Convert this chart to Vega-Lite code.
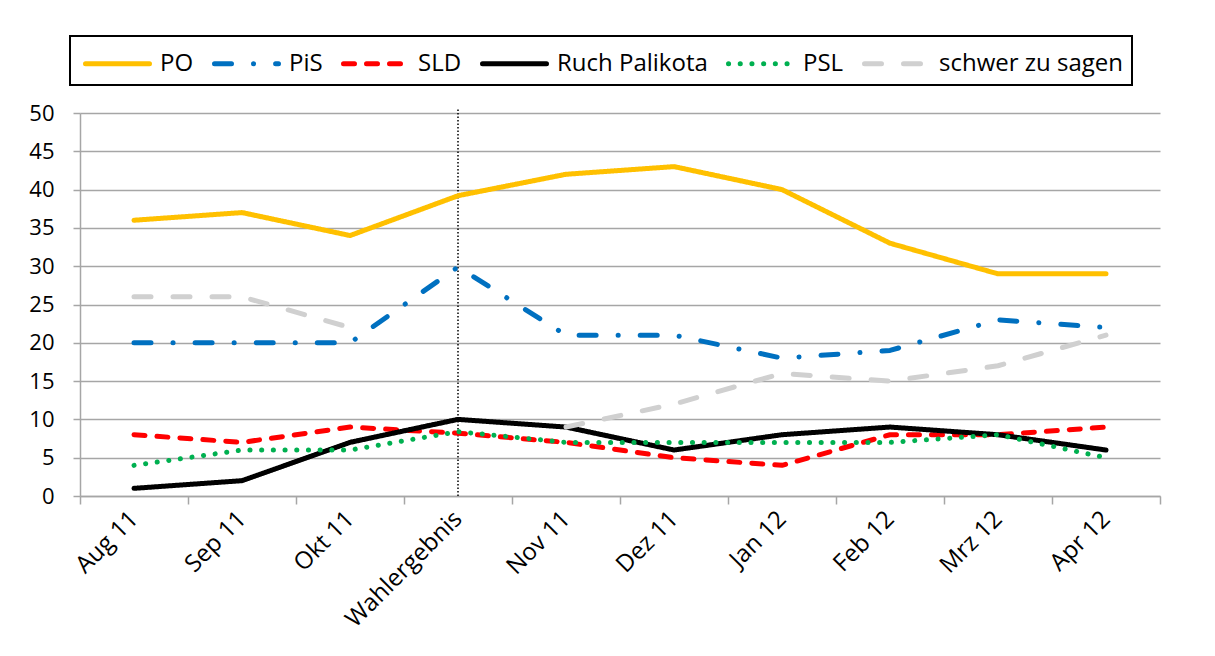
{
  "$schema": "https://vega.github.io/schema/vega-lite/v6.json",
  "width": 1080,
  "height": 383,
  "autosize": "none",
  "padding": {"left": 80, "top": 113, "right": 55, "bottom": 160},
  "background": "white",
  "config": {
    "font": "Open Sans",
    "view": {"stroke": null},
    "axis": {"labelFont": "Open Sans", "labelColor": "black", "domainColor": "#a6a6a6", "tickColor": "#a6a6a6", "gridColor": "#a6a6a6", "domainWidth": 1.5, "tickWidth": 1.5, "gridWidth": 1.5, "labelOverlap": false}
  },
  "datasets": {
    "umfragen": [
      {"monat": "Aug 11", "partei": "PO", "wert": 36, "teil": 1},
      {"monat": "Sep 11", "partei": "PO", "wert": 37, "teil": 1},
      {"monat": "Okt 11", "partei": "PO", "wert": 34, "teil": 1},
      {"monat": "Wahlergebnis", "partei": "PO", "wert": 39.2, "teil": 1},
      {"monat": "Nov 11", "partei": "PO", "wert": 42, "teil": 1},
      {"monat": "Dez 11", "partei": "PO", "wert": 43, "teil": 1},
      {"monat": "Jan 12", "partei": "PO", "wert": 40, "teil": 1},
      {"monat": "Feb 12", "partei": "PO", "wert": 33, "teil": 1},
      {"monat": "Mrz 12", "partei": "PO", "wert": 29, "teil": 1},
      {"monat": "Apr 12", "partei": "PO", "wert": 29, "teil": 1},
      {"monat": "Aug 11", "partei": "PiS", "wert": 20, "teil": 1},
      {"monat": "Sep 11", "partei": "PiS", "wert": 20, "teil": 1},
      {"monat": "Okt 11", "partei": "PiS", "wert": 20, "teil": 1},
      {"monat": "Wahlergebnis", "partei": "PiS", "wert": 29.9, "teil": 1},
      {"monat": "Nov 11", "partei": "PiS", "wert": 21, "teil": 1},
      {"monat": "Dez 11", "partei": "PiS", "wert": 21, "teil": 1},
      {"monat": "Jan 12", "partei": "PiS", "wert": 18, "teil": 1},
      {"monat": "Feb 12", "partei": "PiS", "wert": 19, "teil": 1},
      {"monat": "Mrz 12", "partei": "PiS", "wert": 23, "teil": 1},
      {"monat": "Apr 12", "partei": "PiS", "wert": 22, "teil": 1},
      {"monat": "Aug 11", "partei": "SLD", "wert": 8, "teil": 1},
      {"monat": "Sep 11", "partei": "SLD", "wert": 7, "teil": 1},
      {"monat": "Okt 11", "partei": "SLD", "wert": 9, "teil": 1},
      {"monat": "Wahlergebnis", "partei": "SLD", "wert": 8.2, "teil": 1},
      {"monat": "Nov 11", "partei": "SLD", "wert": 7, "teil": 1},
      {"monat": "Dez 11", "partei": "SLD", "wert": 5, "teil": 1},
      {"monat": "Jan 12", "partei": "SLD", "wert": 4, "teil": 1},
      {"monat": "Feb 12", "partei": "SLD", "wert": 8, "teil": 1},
      {"monat": "Mrz 12", "partei": "SLD", "wert": 8, "teil": 1},
      {"monat": "Apr 12", "partei": "SLD", "wert": 9, "teil": 1},
      {"monat": "Aug 11", "partei": "Ruch Palikota", "wert": 1, "teil": 1},
      {"monat": "Sep 11", "partei": "Ruch Palikota", "wert": 2, "teil": 1},
      {"monat": "Okt 11", "partei": "Ruch Palikota", "wert": 7, "teil": 1},
      {"monat": "Wahlergebnis", "partei": "Ruch Palikota", "wert": 10, "teil": 1},
      {"monat": "Nov 11", "partei": "Ruch Palikota", "wert": 9, "teil": 1},
      {"monat": "Dez 11", "partei": "Ruch Palikota", "wert": 6, "teil": 1},
      {"monat": "Jan 12", "partei": "Ruch Palikota", "wert": 8, "teil": 1},
      {"monat": "Feb 12", "partei": "Ruch Palikota", "wert": 9, "teil": 1},
      {"monat": "Mrz 12", "partei": "Ruch Palikota", "wert": 8, "teil": 1},
      {"monat": "Apr 12", "partei": "Ruch Palikota", "wert": 6, "teil": 1},
      {"monat": "Aug 11", "partei": "PSL", "wert": 4, "teil": 1},
      {"monat": "Sep 11", "partei": "PSL", "wert": 6, "teil": 1},
      {"monat": "Okt 11", "partei": "PSL", "wert": 6, "teil": 1},
      {"monat": "Wahlergebnis", "partei": "PSL", "wert": 8.4, "teil": 1},
      {"monat": "Nov 11", "partei": "PSL", "wert": 7, "teil": 1},
      {"monat": "Dez 11", "partei": "PSL", "wert": 7, "teil": 1},
      {"monat": "Jan 12", "partei": "PSL", "wert": 7, "teil": 1},
      {"monat": "Feb 12", "partei": "PSL", "wert": 7, "teil": 1},
      {"monat": "Mrz 12", "partei": "PSL", "wert": 8, "teil": 1},
      {"monat": "Apr 12", "partei": "PSL", "wert": 5, "teil": 1},
      {"monat": "Aug 11", "partei": "schwer zu sagen", "wert": 26, "teil": 1},
      {"monat": "Sep 11", "partei": "schwer zu sagen", "wert": 26, "teil": 1},
      {"monat": "Okt 11", "partei": "schwer zu sagen", "wert": 22, "teil": 1},
      {"monat": "Nov 11", "partei": "schwer zu sagen", "wert": 9, "teil": 2},
      {"monat": "Dez 11", "partei": "schwer zu sagen", "wert": 12, "teil": 2},
      {"monat": "Jan 12", "partei": "schwer zu sagen", "wert": 16, "teil": 2},
      {"monat": "Feb 12", "partei": "schwer zu sagen", "wert": 15, "teil": 2},
      {"monat": "Mrz 12", "partei": "schwer zu sagen", "wert": 17, "teil": 2},
      {"monat": "Apr 12", "partei": "schwer zu sagen", "wert": 21, "teil": 2}
    ],
    "wahl": [{"monat": "Wahlergebnis", "von": 0, "bis": 50.6}]
  },
  "layer": [
    {
      "data": {"name": "wahl"},
      "mark": {"type": "rule", "color": "black", "strokeWidth": 1.5, "strokeDash": [1.5, 2]},
      "encoding": {
        "x": {"field": "monat", "type": "nominal", "bandPosition": 0.5,
          "sort": ["Aug 11", "Sep 11", "Okt 11", "Wahlergebnis", "Nov 11", "Dez 11", "Jan 12", "Feb 12", "Mrz 12", "Apr 12"],
          "scale": {"type": "band", "paddingInner": 0, "paddingOuter": 0},
          "axis": {"title": null, "tickBand": "extent", "labelAngle": -45, "labelAlign": "right", "labelBaseline": "middle", "labelFontSize": 24, "tickSize": 8, "labelPadding": 11, "grid": false}
        },
        "y": {"field": "von", "type": "quantitative",
          "scale": {"domain": [0, 50], "nice": false, "clamp": false},
          "axis": {"title": null, "values": [0, 5, 10, 15, 20, 25, 30, 35, 40, 45, 50], "labelFontSize": 22, "tickSize": 7, "labelPadding": 19, "grid": true}
        },
        "y2": {"field": "bis"}
      }
    },
    {
      "data": {"name": "umfragen"},
      "mark": {"type": "line", "strokeWidth": 5, "strokeCap": "round", "strokeJoin": "round", "clip": false},
      "encoding": {
        "x": {
          "field": "monat", "type": "nominal", "bandPosition": 0.5,
          "sort": ["Aug 11", "Sep 11", "Okt 11", "Wahlergebnis", "Nov 11", "Dez 11", "Jan 12", "Feb 12", "Mrz 12", "Apr 12"],
          "scale": {"type": "band", "paddingInner": 0, "paddingOuter": 0},
          "axis": {"title": null, "tickBand": "extent", "labelAngle": -45, "labelAlign": "right", "labelBaseline": "middle", "labelFontSize": 24, "tickSize": 8, "labelPadding": 11, "grid": false}
        },
        "y": {
          "field": "wert", "type": "quantitative",
          "scale": {"domain": [0, 50], "nice": false},
          "axis": {"title": null, "values": [0, 5, 10, 15, 20, 25, 30, 35, 40, 45, 50], "labelFontSize": 22, "tickSize": 7, "labelPadding": 19, "grid": true}
        },
        "color": {
          "field": "partei", "type": "nominal",
          "scale": {"domain": ["PO", "PiS", "SLD", "Ruch Palikota", "PSL", "schwer zu sagen"], "range": ["#FFC000", "#0070C0", "#FF0000", "#000000", "#00B050", "#D0D0D0"]},
          "legend": {"title": null, "orient": "none", "legendX": -10, "legendY": -77, "direction": "horizontal", "columns": 6,
            "strokeColor": "black", "fillColor": "white", "padding": 9, "symbolType": "M-2,0H2", "symbolSize": 1024, "symbolStrokeWidth": 5, "symbolOffset": 20,
            "labelFontSize": 24, "labelFont": "Open Sans", "labelColor": "black", "labelOffset": 24, "columnPadding": 10, "labelLimit": 400,
            "encode": {"symbols": {"update": {"strokeCap": {"value": "round"}}}, "legend": {"update": {"strokeWidth": {"value": 2}}}}}
        },
        "strokeDash": {
          "field": "partei", "type": "nominal",
          "scale": {"domain": ["PO", "PiS", "SLD", "Ruch Palikota", "PSL", "schwer zu sagen"], "range": [[1, 0], [17, 22, 0.1, 22], [11, 12], [1, 0], [0.1, 11.6], [17, 22]]},
          "legend": null
        },
        "detail": {"field": "teil", "type": "nominal"},
        "order": {"field": "teil"}
      }
    }
  ]
}
